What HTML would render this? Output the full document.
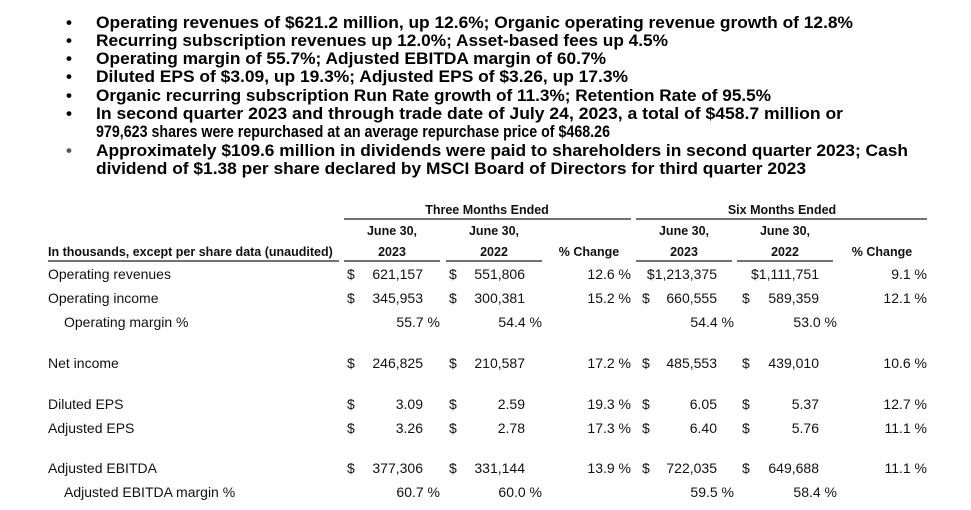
<!DOCTYPE html>
<html><head><meta charset="utf-8">
<style>
html,body{margin:0;padding:0;background:#fff;}
svg{display:block;font-family:"Liberation Sans",Arial,sans-serif;}
.b{font-weight:bold;font-size:17px;fill:#000;}
.t{font-size:14px;fill:#111;}
.h{font-size:12.5px;font-weight:bold;fill:#111;}
</style></head>
<body>
<svg width="971" height="510" viewBox="0 0 971 510">
<g>
<g class="b">
<text x="66" y="28">•</text><text x="66" y="46">•</text><text x="66" y="64">•</text><text x="66" y="82">•</text><text x="66" y="101">•</text><text x="66" y="119">•</text><text x="66" y="156" fill="#555">•</text>
</g>
<text class="b" x="96" y="28" textLength="757" lengthAdjust="spacingAndGlyphs">Operating revenues of $621.2 million, up 12.6%; Organic operating revenue growth of 12.8%</text>
<text class="b" x="96" y="46" textLength="572" lengthAdjust="spacingAndGlyphs">Recurring subscription revenues up 12.0%; Asset-based fees up 4.5%</text>
<text class="b" x="96" y="64" textLength="510" lengthAdjust="spacingAndGlyphs">Operating margin of 55.7%; Adjusted EBITDA margin of 60.7%</text>
<text class="b" x="96" y="82" textLength="532" lengthAdjust="spacingAndGlyphs">Diluted EPS of $3.09, up 19.3%; Adjusted EPS of $3.26, up 17.3%</text>
<text class="b" x="96" y="101" textLength="675" lengthAdjust="spacingAndGlyphs">Organic recurring subscription Run Rate growth of 11.3%; Retention Rate of 95.5%</text>
<text class="b" x="96" y="119" textLength="747" lengthAdjust="spacingAndGlyphs">In second quarter 2023 and through trade date of July 24, 2023, a total of $458.7 million or</text>
<text class="b" x="96" y="137" textLength="514" lengthAdjust="spacingAndGlyphs">979,623 shares were repurchased at an average repurchase price of $468.26</text>
<text class="b" x="96" y="156" textLength="812" lengthAdjust="spacingAndGlyphs">Approximately $109.6 million in dividends were paid to shareholders in second quarter 2023; Cash</text>
<text class="b" x="96" y="174" textLength="710" lengthAdjust="spacingAndGlyphs">dividend of $1.38 per share declared by MSCI Board of Directors for third quarter 2023</text>
</g>

<g>
<g stroke="#444" stroke-width="1.4">
<line x1="344" y1="219" x2="631" y2="219"/>
<line x1="636" y1="219" x2="927" y2="219"/>
<line x1="48" y1="261" x2="339" y2="261"/>
<line x1="344" y1="261" x2="440" y2="261"/>
<line x1="446" y1="261" x2="542" y2="261"/>
<line x1="636" y1="261" x2="732" y2="261"/>
<line x1="737" y1="261" x2="833" y2="261"/>
</g>
<g class="h" text-anchor="middle">
<text x="487" y="214">Three Months Ended</text>
<text x="782" y="214">Six Months Ended</text>
<text x="392" y="235">June 30,</text><text x="494" y="235">June 30,</text>
<text x="684" y="235">June 30,</text><text x="785" y="235">June 30,</text>
<text x="392" y="256">2023</text><text x="494" y="256">2022</text><text x="589" y="256">% Change</text>
<text x="684" y="256">2023</text><text x="785" y="256">2022</text><text x="882" y="256">% Change</text>
</g>
<text class="h" x="48" y="256">In thousands, except per share data (unaudited)</text>

<g class="t">
<text x="48" y="279">Operating revenues</text>
<text x="48" y="303">Operating income</text>
<text x="64" y="327">Operating margin %</text>
<text x="48" y="368">Net income</text>
<text x="48" y="409">Diluted EPS</text>
<text x="48" y="433">Adjusted EPS</text>
<text x="48" y="473">Adjusted EBITDA</text>
<text x="64" y="497">Adjusted EBITDA margin %</text>
</g>

<g class="t">
<text x="347" y="279">$</text><text x="449" y="279">$</text>
<text x="347" y="303">$</text><text x="449" y="303">$</text><text x="642" y="303">$</text><text x="742" y="303">$</text>
<text x="347" y="368">$</text><text x="449" y="368">$</text><text x="642" y="368">$</text><text x="742" y="368">$</text>
<text x="347" y="409">$</text><text x="449" y="409">$</text><text x="642" y="409">$</text><text x="742" y="409">$</text>
<text x="347" y="433">$</text><text x="449" y="433">$</text><text x="642" y="433">$</text><text x="742" y="433">$</text>
<text x="347" y="473">$</text><text x="449" y="473">$</text><text x="642" y="473">$</text><text x="742" y="473">$</text>
</g>

<g class="t" text-anchor="end">
<text x="423" y="279">621,157</text><text x="525" y="279">551,806</text><text x="631" y="279">12.6 %</text><text x="717" y="279">$1,213,375</text><text x="819" y="279">$1,111,751</text><text x="927" y="279">9.1 %</text>
<text x="423" y="303">345,953</text><text x="525" y="303">300,381</text><text x="631" y="303">15.2 %</text><text x="717" y="303">660,555</text><text x="819" y="303">589,359</text><text x="927" y="303">12.1 %</text>
<text x="440" y="327">55.7 %</text><text x="542" y="327">54.4 %</text><text x="734" y="327">54.4 %</text><text x="837" y="327">53.0 %</text>
<text x="423" y="368">246,825</text><text x="525" y="368">210,587</text><text x="631" y="368">17.2 %</text><text x="717" y="368">485,553</text><text x="819" y="368">439,010</text><text x="927" y="368">10.6 %</text>
<text x="423" y="409">3.09</text><text x="525" y="409">2.59</text><text x="631" y="409">19.3 %</text><text x="717" y="409">6.05</text><text x="819" y="409">5.37</text><text x="927" y="409">12.7 %</text>
<text x="423" y="433">3.26</text><text x="525" y="433">2.78</text><text x="631" y="433">17.3 %</text><text x="717" y="433">6.40</text><text x="819" y="433">5.76</text><text x="927" y="433">11.1 %</text>
<text x="423" y="473">377,306</text><text x="525" y="473">331,144</text><text x="631" y="473">13.9 %</text><text x="717" y="473">722,035</text><text x="819" y="473">649,688</text><text x="927" y="473">11.1 %</text>
<text x="440" y="497">60.7 %</text><text x="542" y="497">60.0 %</text><text x="734" y="497">59.5 %</text><text x="837" y="497">58.4 %</text>
</g>
</g>
</svg>
</body></html>
